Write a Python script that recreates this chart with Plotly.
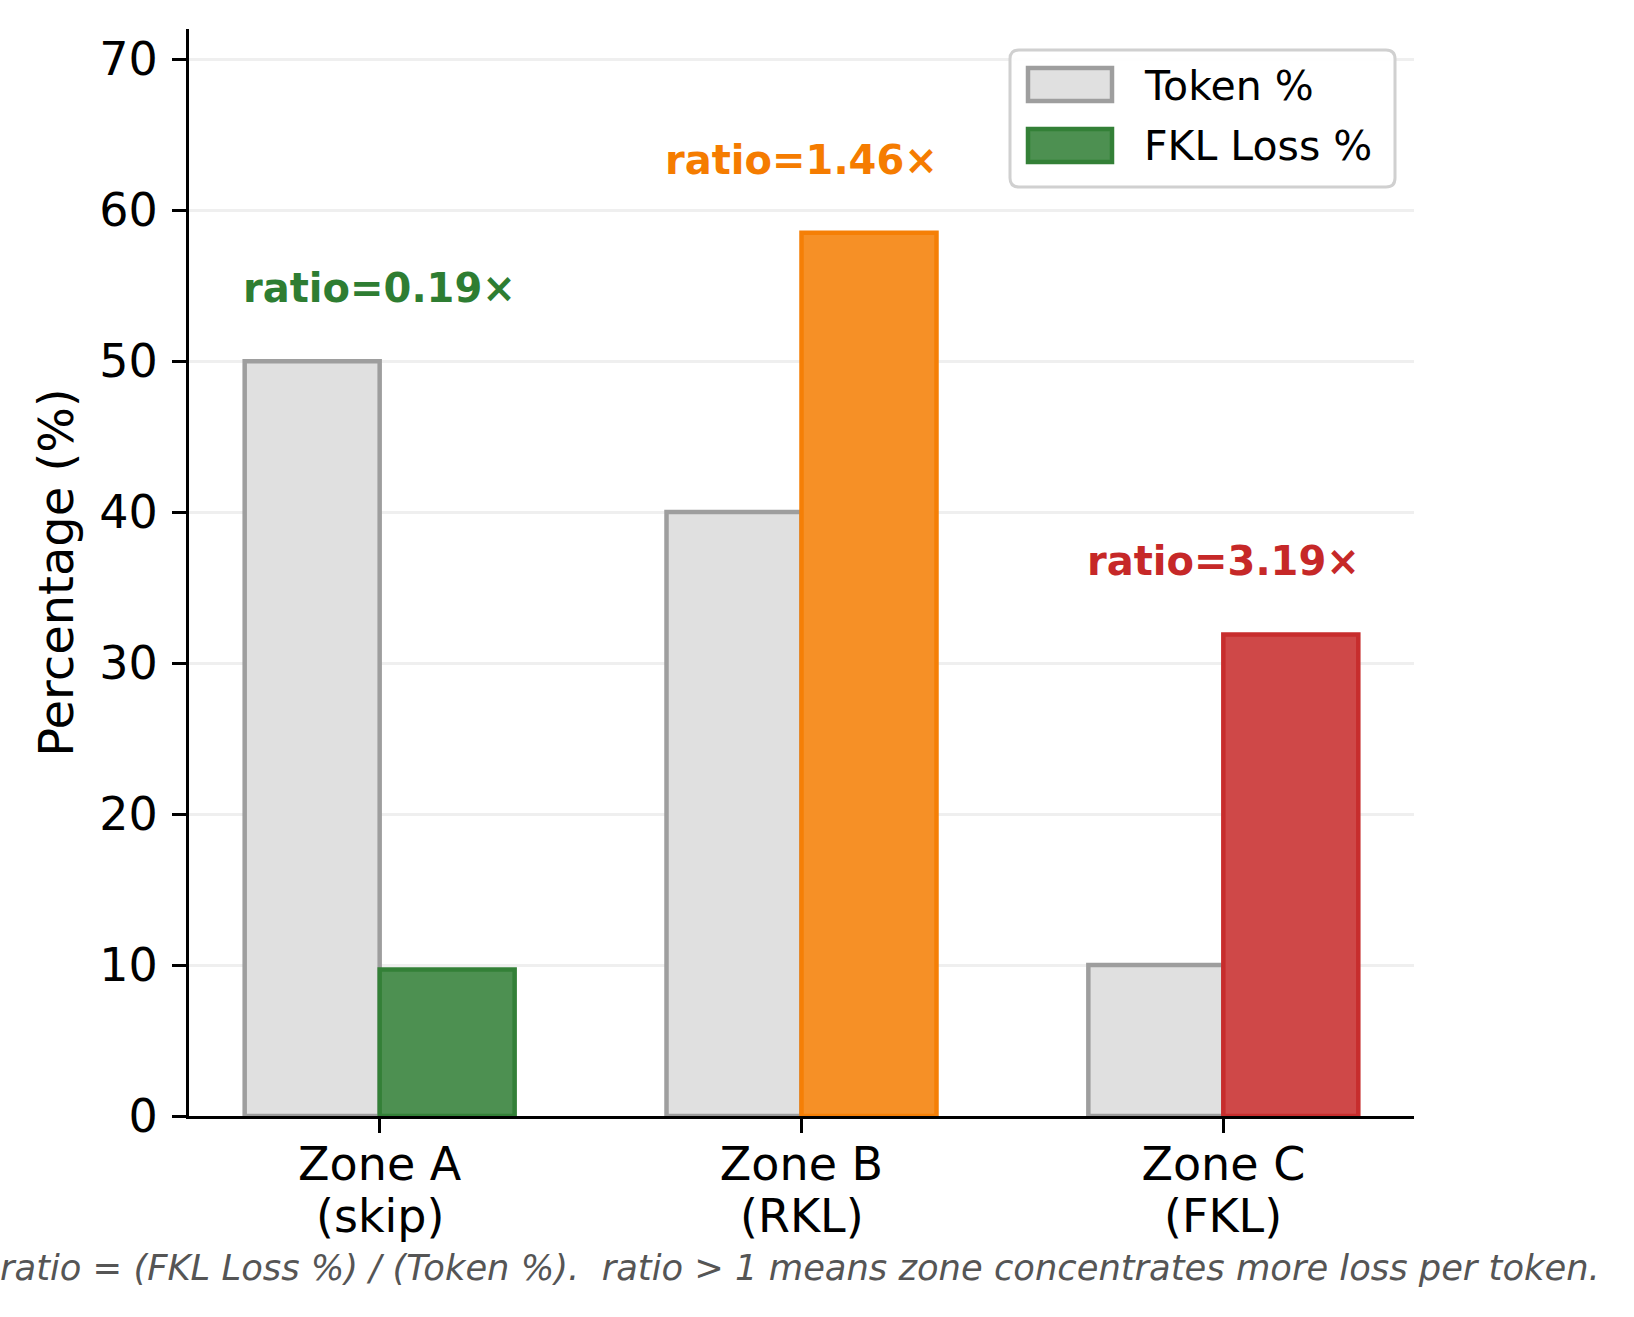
import plotly.graph_objects as go

# ---------------- data ----------------
zones = ["Zone A", "Zone B", "Zone C"]
methods = ["(skip)", "(RKL)", "(FKL)"]
token_pct = [50.0, 40.0, 10.0]
fkl_loss_pct = [9.7, 58.5, 31.9]
series_names = ["Token %", "FKL Loss %"]
zone_colors = ["#2e7d32", "#f57c00", "#c62828"]
y_ticks = [0, 10, 20, 30, 40, 50, 60, 70]
caption = "ratio = (FKL Loss %) / (Token %).  ratio > 1 means zone concentrates more loss per token."

# ---------------- geometry helpers ----------------
W, H = 1634, 1317
ML, MR, MT, MB = 189, 220, 29, 201
PW, PH = W - ML - MR, H - MT - MB


def px_x(px):
    return (px - ML) / PW


def px_y(py):
    return (H - MB - py) / PH


def blend(hex_color, alpha=0.85):
    h = hex_color.lstrip("#")
    r, g, b = (int(h[i:i + 2], 16) for i in (0, 2, 4))
    c = [round(alpha * v + (1 - alpha) * 255) for v in (r, g, b)]
    return "rgb({},{},{})".format(*c)


def darken(hex_color, alpha=0.85):
    h = hex_color.lstrip("#")
    r, g, b = (int(h[i:i + 2], 16) for i in (0, 2, 4))
    c = [round(alpha * v + (1 - alpha) * (alpha * v + (1 - alpha) * 255)) for v in (r, g, b)]
    return "rgb({},{},{})".format(*c)


FONT = "DejaVu Sans"
bar_w = 0.32
xs = list(range(len(zones)))

fig = go.Figure()
fig.add_trace(go.Bar(
    x=xs, y=token_pct, name=series_names[0], width=bar_w, offset=-bar_w,
    marker=dict(color="#e0e0e0", line=dict(color="#9e9e9e", width=4.5)),
    showlegend=False,
))
fig.add_trace(go.Bar(
    x=xs, y=fkl_loss_pct, name=series_names[1], width=bar_w, offset=0,
    marker=dict(color=[blend(c) for c in zone_colors],
                line=dict(color=[darken(c) for c in zone_colors], width=4.5)),
    showlegend=False,
))

annotations = []
# ratio labels
for i, (t, f) in enumerate(zip(token_pct, fkl_loss_pct)):
    annotations.append(dict(
        x=i, y=max(t, f) + 4.85, xref="x", yref="y",
        text="ratio={:.2f}×".format(f / t), showarrow=False,
        font=dict(family=FONT, size=40, color=zone_colors[i], weight="bold"),
        xanchor="center", yanchor="middle",
    ))
# second line of category labels
for i, m in enumerate(methods):
    annotations.append(dict(
        x=i, y=px_y(1216), xref="x", yref="paper",
        text=m, showarrow=False,
        font=dict(family=FONT, size=46, color="black"),
        xanchor="center", yanchor="middle",
    ))
# caption
annotations.append(dict(
    x=px_x(800), y=px_y(1267), xref="paper", yref="paper",
    text=caption, showarrow=False,
    font=dict(family=FONT, size=35.3, color="#555555", style="italic"),
    xanchor="center", yanchor="middle",
))

# ---------------- manual legend ----------------
shapes = []
bx0, bx1, by0, by1, rad = 1010, 1395, 50, 187, 9
path = (
    f"M {px_x(bx0 + rad)},{px_y(by0)} L {px_x(bx1 - rad)},{px_y(by0)} "
    f"Q {px_x(bx1)},{px_y(by0)} {px_x(bx1)},{px_y(by0 + rad)} "
    f"L {px_x(bx1)},{px_y(by1 - rad)} Q {px_x(bx1)},{px_y(by1)} {px_x(bx1 - rad)},{px_y(by1)} "
    f"L {px_x(bx0 + rad)},{px_y(by1)} Q {px_x(bx0)},{px_y(by1)} {px_x(bx0)},{px_y(by1 - rad)} "
    f"L {px_x(bx0)},{px_y(by0 + rad)} Q {px_x(bx0)},{px_y(by0)} {px_x(bx0 + rad)},{px_y(by0)} Z"
)
shapes.append(dict(type="path", path=path, xref="paper", yref="paper",
                   fillcolor="rgba(255,255,255,0.9)", line=dict(color="#d0d0d0", width=3)))
legend_items = [
    (series_names[0], "#e0e0e0", "#9e9e9e", 68, 101, 85.8),
    (series_names[1], blend(zone_colors[0]), darken(zone_colors[0]), 129, 162, 145.8),
]
for name, fill, edge, sy0, sy1, ty in legend_items:
    shapes.append(dict(type="rect", xref="paper", yref="paper",
                       x0=px_x(1028), x1=px_x(1112), y0=px_y(sy1), y1=px_y(sy0),
                       fillcolor=fill, line=dict(color=edge, width=4.5)))
    annotations.append(dict(
        x=px_x(1142), y=px_y(ty), xref="paper", yref="paper",
        text=name, showarrow=False,
        font=dict(family=FONT, size=41, color="black"),
        xanchor="left", yanchor="middle",
    ))

fig.update_layout(
    width=W, height=H, autosize=False,
    margin=dict(l=ML, r=MR, t=MT, b=MB, pad=0),
    plot_bgcolor="white", paper_bgcolor="white",
    barmode="overlay",
    font=dict(family=FONT, color="black"),
    annotations=annotations, shapes=shapes,
    xaxis=dict(
        range=[-0.452, 2.452], tickmode="array", tickvals=xs, ticktext=zones,
        showline=True, linecolor="black", linewidth=3, mirror=False,
        ticks="outside", ticklen=14, tickwidth=3, tickcolor="black",
        ticklabelstandoff=-8,
        showgrid=False, zeroline=False, automargin=False,
        tickfont=dict(family=FONT, size=46, color="black"),
    ),
    yaxis=dict(
        range=[0, 72], tickmode="array", tickvals=y_ticks,
        showline=True, linecolor="black", linewidth=3,
        ticks="outside", ticklen=14, tickwidth=3, tickcolor="black",
        ticklabelstandoff=5,
        showgrid=True, gridcolor="#efefef", gridwidth=3,
        zeroline=False, automargin=False,
        tickfont=dict(family=FONT, size=46, color="black"),
        title=dict(text="Percentage (%)", font=dict(family=FONT, size=48, color="black"), standoff=11),
    ),
)

fig.write_html("out.html")
